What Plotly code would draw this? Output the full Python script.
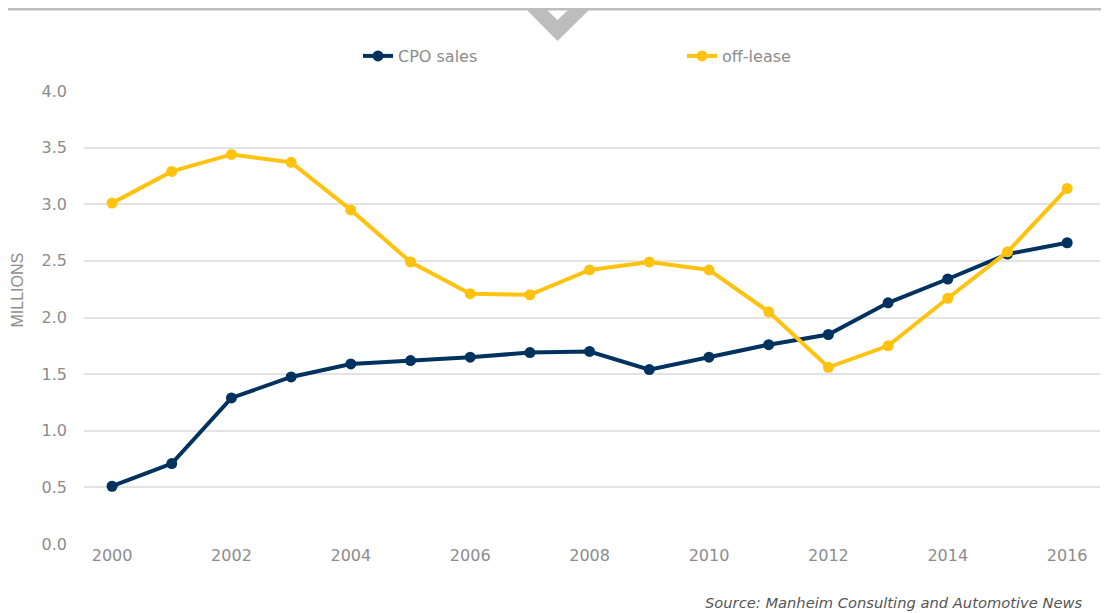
import plotly.graph_objects as go

years = list(range(2000, 2017))
cpo_sales = [0.51, 0.71, 1.29, 1.475, 1.59, 1.62, 1.65, 1.69, 1.70, 1.54, 1.65, 1.76, 1.85, 2.13, 2.34, 2.56, 2.66]
off_lease = [3.01, 3.29, 3.44, 3.37, 2.95, 2.49, 2.21, 2.20, 2.42, 2.49, 2.42, 2.05, 1.56, 1.75, 2.17, 2.58, 3.14]
y_ticks = [0.0, 0.5, 1.0, 1.5, 2.0, 2.5, 3.0, 3.5, 4.0]
x_ticks = [2000, 2002, 2004, 2006, 2008, 2010, 2012, 2014, 2016]

# page places the figure at an 8px body margin
OFF = 8
W, H = 1109 - OFF, 613 - OFF
L, R, T, B = 84 - OFF, 9, 91 - OFF, 69
pw, ph = W - L - R, H - T - B

def px(x):  # reference screen x -> paper
    return (x - OFF - L) / pw

def py(y):  # reference screen y -> paper
    return (H - B - (y - OFF)) / ph

NAVY = "#00325f"
GOLD = "#ffc20e"
GRAY = "#8c8c8c"
FONT = "DejaVu Sans"

fig = go.Figure()
fig.add_trace(go.Scatter(x=years, y=cpo_sales, name="CPO sales", mode="lines+markers",
                         line=dict(color=NAVY, width=4), marker=dict(size=11, color=NAVY)))
fig.add_trace(go.Scatter(x=years, y=off_lease, name="off-lease", mode="lines+markers",
                         line=dict(color=GOLD, width=4), marker=dict(size=11, color=GOLD)))

shapes = [
    dict(type="line", xref="paper", yref="paper", x0=px(8), x1=px(1109), y0=py(9), y1=py(9),
         line=dict(color="#bdbdbd", width=3)),
    dict(type="path", xref="paper", yref="paper",
         path=f"M {px(527)} {py(10)} L {px(547)} {py(10)} L {px(557.5)} {py(20)} L {px(568)} {py(10)} "
              f"L {px(589)} {py(10)} L {px(557.5)} {py(41)} Z",
         fillcolor="#bdbdbd", line=dict(width=0)),
]

fig.update_layout(
    width=W, height=H,
    margin=dict(l=L, r=R, t=T, b=B),
    paper_bgcolor="white", plot_bgcolor="white",
    font=dict(family=FONT, color=GRAY),
    showlegend=True,
    legend=dict(orientation="h", x=px(358), y=py(56), xanchor="left", yanchor="middle",
                font=dict(size=16, color=GRAY, family=FONT), itemwidth=30, entrywidth=279,
                entrywidthmode="pixels", bgcolor="rgba(0,0,0,0)"),
    xaxis=dict(range=[1999.53, 2016.55], tickvals=x_ticks, showgrid=False, zeroline=False,
               showline=False, ticks="", tickfont=dict(size=16, color=GRAY, family=FONT), fixedrange=True),
    yaxis=dict(range=[0, 4], tickvals=y_ticks, tickformat=".1f", showgrid=True, gridcolor="#e3e3e3",
               gridwidth=1.5, zeroline=False, showline=False, ticks="", ticklabelstandoff=16,
               tickfont=dict(size=16, color=GRAY, family=FONT)),
    shapes=shapes,
    annotations=[
        dict(text="<i>Source: Manheim Consulting and Automotive News</i>", xref="paper", yref="paper",
             x=px(1084), y=py(602), xanchor="right", yanchor="middle", showarrow=False,
             font=dict(size=14.7, color="#555555", family=FONT)),
        dict(text="MILLIONS", xref="paper", yref="paper", x=px(16.5), y=py(290), textangle=-90,
             xanchor="center", yanchor="middle", showarrow=False,
             font=dict(size=16, color=GRAY, family="Liberation Sans")),
    ],
)

fig.write_html("out.html")
